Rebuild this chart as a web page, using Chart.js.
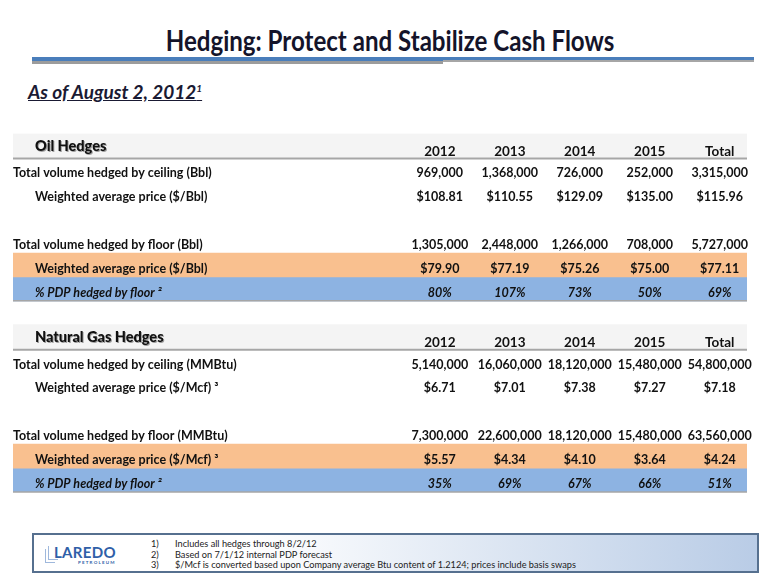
<!DOCTYPE html>
<html>
<head>
<meta charset="utf-8">
<script src="https://cdn.jsdelivr.net/npm/chart.js@4.4.0/dist/chart.umd.min.js"></script>
<style>
  body { margin: 0; background: #fff; }
  #slide { position: relative; width: 780px; height: 585px; overflow: hidden; font-family: Lato, 'Open Sans', sans-serif; }
  #title { position: absolute; top: 23px; left: 0; width: 780px; text-align: center; font-size: 28px; font-weight: 700; color: #14142a;
           transform: scaleX(0.86); transform-origin: 390px 0; }
  .rule { position: absolute; }
  #asOf { position: absolute; left: 28px; top: 80px; font-size: 19px; font-weight: 700; font-style: italic; color: #1a1a33; text-decoration: underline; }
  #asOf sup { font-size: 10px; }
  #wrap { position: absolute; left: 0; top: 120px; width: 780px; height: 390px; }
  #footer { position: absolute; left: 32px; top: 533px; width: 723px; height: 36px; border: 2px solid #56708f;
            background: linear-gradient(to right, #ffffff 0%, #ffffff 30%, #b9cce6 100%); }
  #logo { position: absolute; left: 20px; top: 8px; color: #2f5fa8; font-size: 15px; font-weight: 700; letter-spacing: 0.3px; }
  #logo small { display: block; font-size: 4.5px; letter-spacing: 1.2px; text-align: right; margin-top: -1px; color: #2f5fa8; }
  .ghost { position: absolute; border-left: 1.5px solid #9fb8dc; border-bottom: 1.5px solid #9fb8dc; width: 9px; height: 13px; }
  .note { position: absolute; font-size: 9.2px; color: #222; white-space: nowrap; }
</style>
</head>
<body>
<div id="slide">
  <div id="title">Hedging: Protect and Stabilize Cash Flows</div>
  <div class="rule" style="left:32px;top:57px;width:411px;height:4px;background:#4a7ebb"></div>
  <div class="rule" style="left:32px;top:61px;width:411px;height:3px;background:#9c9c9c"></div>
  <div class="rule" style="left:443px;top:57px;width:311px;height:3px;background:#4a7ebb"></div>
  <div class="rule" style="left:443px;top:60px;width:311px;height:2px;background:#a6a6a6"></div>
  <div id="asOf">As of August 2, 2012<sup>1</sup></div>
  <div id="wrap"><canvas id="chartHedges" width="780" height="390"></canvas></div>
  <div id="footer">
    <div class="ghost" style="left:14px;top:11px"></div>
    <div class="ghost" style="left:11px;top:14px"></div>
    <div id="logo">LAREDO<small>PETROLEUM</small></div>
    <div class="note" style="left:117px;top:3px">1)</div><div class="note" style="left:141px;top:3px">Includes all hedges through 8/2/12</div>
    <div class="note" style="left:117px;top:14px">2)</div><div class="note" style="left:141px;top:14px">Based on 7/1/12 internal PDP forecast</div>
    <div class="note" style="left:117px;top:24px">3)</div><div class="note" style="left:141px;top:24px">$/Mcf is converted based upon Company average Btu content of 1.2124; prices include basis swaps</div>
  </div>
</div>
<script>
const columns = ['2012', '2013', '2014', '2015', 'Total'];

const rowKeys = ['oilHead', 'oilCeilVol', 'oilCeilPrice', 'gap1', 'oilFloorVol', 'oilFloorPrice', 'oilPdp', 'gap2',
                 'gasHead', 'gasCeilVol', 'gasCeilPrice', 'gap3', 'gasFloorVol', 'gasFloorPrice', 'gasPdp'];
const rowLabels = ['Oil Hedges', 'Total volume hedged by ceiling (Bbl)', 'Weighted average price ($/Bbl)', '',
                   'Total volume hedged by floor (Bbl)', 'Weighted average price ($/Bbl)', '% PDP hedged by floor ²', '',
                   'Natural Gas Hedges', 'Total volume hedged by ceiling (MMBtu)', 'Weighted average price ($/Mcf) ³', '',
                   'Total volume hedged by floor (MMBtu)', 'Weighted average price ($/Mcf) ³', '% PDP hedged by floor ²'];
const rowTypes = ['head', 'main', 'sub', 'gap', 'main', 'sub', 'pct', 'gap',
                  'head', 'main', 'sub', 'gap', 'main', 'sub', 'pct'];

// oil
const oilCeilVol = [969000, 1368000, 726000, 252000, 3315000];
const oilCeilPrice = [108.81, 110.55, 129.09, 135.00, 115.96];
const oilFloorVol = [1305000, 2448000, 1266000, 708000, 5727000];
const oilFloorPrice = [79.90, 77.19, 75.26, 75.00, 77.11];
const oilPdp = [80, 107, 73, 50, 69];
// gas
const gasCeilVol = [5140000, 16060000, 18120000, 15480000, 54800000];
const gasCeilPrice = [6.71, 7.01, 7.38, 7.27, 7.18];
const gasFloorVol = [7300000, 22600000, 18120000, 15480000, 63560000];
const gasFloorPrice = [5.57, 4.34, 4.10, 3.64, 4.24];
const gasPdp = [35, 69, 67, 66, 51];

const orangeRows = ['oilFloorPrice', 'gasFloorPrice'];
const blueRows = ['oilPdp', 'gasPdp'];
const headRows = ['oilHead', 'gasHead'];

const fmtVol = v => v.toLocaleString('en-US');
const fmtPrice = v => '$' + v.toFixed(2);
const fmtPct = v => v + '%';

const cells = {
    oilHead: columns, gasHead: columns,
    oilCeilVol: oilCeilVol.map(fmtVol), oilCeilPrice: oilCeilPrice.map(fmtPrice),
    oilFloorVol: oilFloorVol.map(fmtVol), oilFloorPrice: oilFloorPrice.map(fmtPrice), oilPdp: oilPdp.map(fmtPct),
    gasCeilVol: gasCeilVol.map(fmtVol), gasCeilPrice: gasCeilPrice.map(fmtPrice),
    gasFloorVol: gasFloorVol.map(fmtVol), gasFloorPrice: gasFloorPrice.map(fmtPrice), gasPdp: gasPdp.map(fmtPct)
};

// x axis: label area on the left, the five data columns at 1..5
const X_MIN = -5.1, X_MAX = 5.39;
const band = list => rowKeys.map(k => list.includes(k) ? [X_MIN, X_MAX] : null);

const FONT = 'Lato, "Open Sans", sans-serif';

const tablePlugin = {
    id: 'tableText',
    afterDatasetsDraw(chart) {
        const { ctx, chartArea, scales: { x, y } } = chart;
        ctx.save();
        rowKeys.forEach((key, i) => {
            const type = rowTypes[i];
            if (type === 'gap') return;
            const yc = y.getPixelForValue(i);
            ctx.fillStyle = '#111';
            ctx.textBaseline = 'middle';
            if (type === 'head') {
                // underline of the header row
                ctx.strokeStyle = '#a6a6a6';
                ctx.lineWidth = 2;
                ctx.beginPath();
                ctx.moveTo(chartArea.left, yc + 13);
                ctx.lineTo(chartArea.right, yc + 13);
                ctx.stroke();
                ctx.save();
                ctx.font = '900 14.5px ' + FONT;
                ctx.shadowColor = 'rgba(0,0,0,0.35)';
                ctx.shadowOffsetX = 1;
                ctx.shadowOffsetY = 1;
                ctx.textAlign = 'left';
                ctx.fillText(rowLabels[i], chartArea.left + 22, yc + 1);
                ctx.restore();
                ctx.font = 'bold 13.5px ' + FONT;
                ctx.textAlign = 'center';
                cells[key].forEach((c, j) => ctx.fillText(c, x.getPixelForValue(j + 1), yc + 6));
                return;
            }
            if (type === 'pct') {
                ctx.strokeStyle = '#a6a6a6';
                ctx.lineWidth = 1.5;
                const yb = yc + (y.getPixelForValue(1) - y.getPixelForValue(0)) / 2;
                ctx.beginPath();
                ctx.moveTo(chartArea.left, yb);
                ctx.lineTo(chartArea.right, yb);
                ctx.stroke();
            }
            const italic = type === 'pct' ? 'italic ' : '';
            ctx.font = italic + 'bold 12.5px ' + FONT;
            ctx.textAlign = 'left';
            ctx.fillText(rowLabels[i], chartArea.left + (type === 'main' ? 0 : 22), yc + 4);
            ctx.textAlign = 'center';
            cells[key].forEach((c, j) => ctx.fillText(c, x.getPixelForValue(j + 1), yc + 4));
        });
        ctx.restore();
    }
};

new Chart(document.getElementById('chartHedges'), {
    type: 'bar',
    data: {
        labels: rowKeys,
        datasets: [
            { label: 'header', data: band(headRows), backgroundColor: '#f4f4f4', grouped: false, barPercentage: 1, categoryPercentage: 1 },
            { label: 'floor price', data: band(orangeRows), backgroundColor: '#f9c08f', grouped: false, barPercentage: 1, categoryPercentage: 1 },
            { label: 'pdp', data: band(blueRows), backgroundColor: '#8db3e2', grouped: false, barPercentage: 1, categoryPercentage: 1 }
        ]
    },
    options: {
        indexAxis: 'y',
        responsive: false,
        animation: false,
        layout: { padding: { left: 13, right: 33, top: 13.5, bottom: 18 } },
        plugins: { legend: { display: false }, tooltip: { enabled: false } },
        scales: {
            x: { type: 'linear', min: X_MIN, max: X_MAX, display: false },
            y: { display: false }
        }
    },
    plugins: [tablePlugin]
});
</script>
</body>
</html>
